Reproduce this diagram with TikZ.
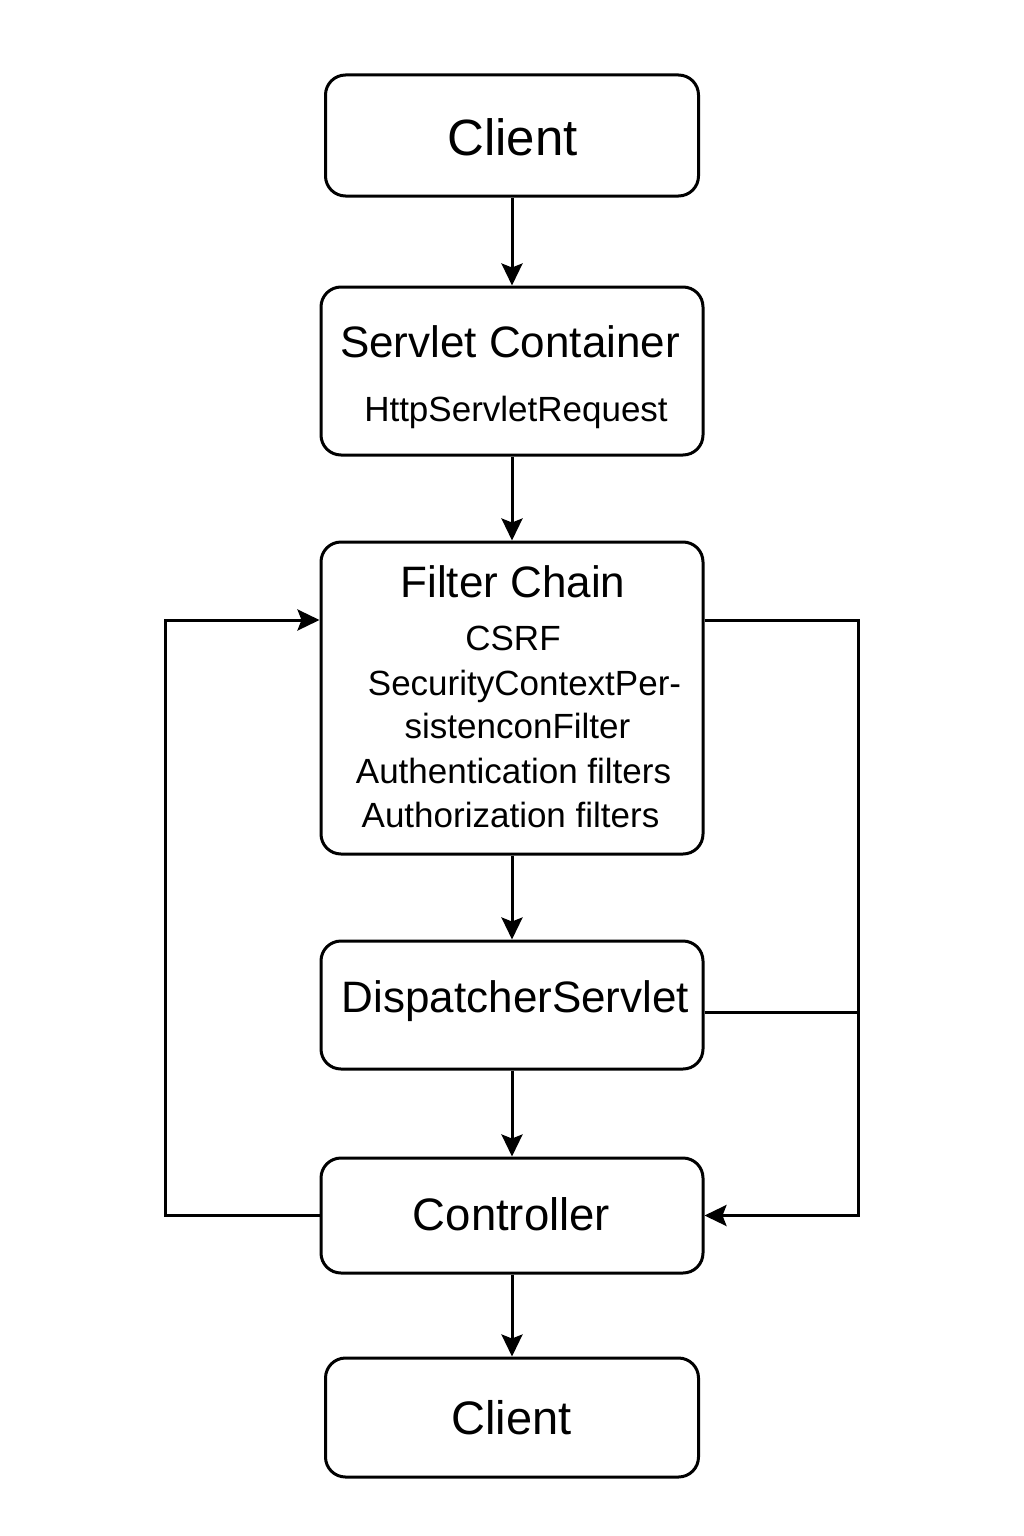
\documentclass[tikz,border=0pt]{standalone}
\usepackage{fontspec}
\setmainfont{Liberation Sans}
\usetikzlibrary{arrows.meta}
\tikzset{
  box/.style={draw, line width=3pt, rounded corners=20pt, inner sep=0pt},
  lbl/.style={anchor=base, inner sep=0pt},
  big/.style={font=\fontsize{44}{50}\selectfont},
  small/.style={font=\fontsize{35}{40}\selectfont},
  conn/.style={line width=3pt},
  arr/.style={conn, -{Stealth[length=22pt,width=21pt,inset=4pt]}}
}
\begin{document}
\begin{tikzpicture}[x=1pt,y=-1pt]
\useasboundingbox (0,0) rectangle (1024,1536);
% boxes
\node[box, minimum width=373pt, minimum height=121pt] (c1) at (512,135.5) {};
\node[box, minimum width=382pt, minimum height=168pt] (sc) at (512,371) {};
\node[box, minimum width=382pt, minimum height=312pt] (fc) at (512,698) {};
\node[box, minimum width=382pt, minimum height=128pt] (ds) at (512,1005) {};
\node[box, minimum width=382pt, minimum height=115pt] (ct) at (512,1215.5) {};
\node[box, minimum width=373pt, minimum height=119pt] (c2) at (512,1417.5) {};
% labels
\node[lbl, font=\fontsize{51}{56}\selectfont] (t1) at (512.5,155) {Client};
\node[lbl, big] (t2) at (510,357) {Servlet Container};
\node[lbl, small] (t3) at (516,421) {HttpServletRequest};
\node[lbl, big] (t4) at (513,597) {Filter Chain};
\node[lbl, small] (t5) at (513,650) {CSRF};
\node[lbl, small] (t6) at (524.5,695) {SecurityContextPer-};
\node[lbl, small] (t7) at (517.5,738) {sistenconFilter};
\node[lbl, small] (t8) at (513.5,783) {Authentication filters};
\node[lbl, small] (t9) at (510.5,827) {Authorization filters};
\node[lbl, big] (t10) at (515.5,1012) {DispatcherServlet};
\node[lbl, font=\fontsize{45.5}{50}\selectfont] (t11) at (511.5,1230) {Controller};
\node[lbl, font=\fontsize{47}{52}\selectfont] (t12) at (511.5,1434) {Client};
% helper coordinates
\coordinate (lx) at (165,0);
\coordinate (rx) at (858,0);
% vertical flow
\draw[arr] (c1) -- (sc);
\draw[arr] (sc) -- (fc);
\draw[arr] (fc) -- (ds);
\draw[arr] (ds) -- (ct);
\draw[arr] (ct) -- (c2);
% left loop
\draw[arr] (ct.west) -- (ct.west -| lx) |- ([yshift=78pt]fc.west);
% right loop
\draw[arr] ([yshift=78pt]fc.east) -- ([yshift=78pt]fc.east -| rx) |- (ct.east);
\draw[conn] ([yshift=-7pt]ds.east) -- ([yshift=-7pt]ds.east -| rx);
\end{tikzpicture}
\end{document}
